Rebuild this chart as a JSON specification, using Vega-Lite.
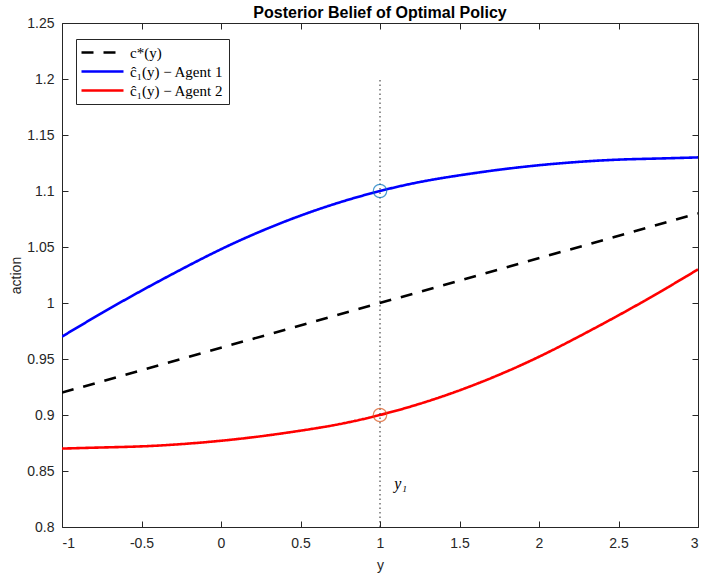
{
  "$schema": "https://vega.github.io/schema/vega-lite/v6.json",
  "autosize": "none",
  "width": 636,
  "height": 504,
  "padding": {"left": 62, "top": 23, "right": 5, "bottom": 47},
  "background": "white",
  "title": {"text": "Posterior Belief of Optimal Policy", "font": "Liberation Sans", "fontSize": 16, "fontWeight": "bold", "color": "#000000", "offset": -5},
  "config": {
    "view": {"stroke": null},
    "axis": {"domainColor": "#262626", "tickColor": "#262626", "labelColor": "#262626", "titleColor": "#262626", "labelFont": "Liberation Sans", "titleFont": "Liberation Sans", "labelFontSize": 14, "titleFontSize": 14, "titleFontWeight": "normal", "grid": false, "tickSize": -6, "domainWidth": 1}
  },
  "datasets": {
    "curves": [
      {"series": "c*(y)", "x": -1, "y": 0.92},
      {"series": "c*(y)", "x": 3, "y": 1.08},
      {"series": "ĉ₁(y) − Agent 1", "x": -1, "y": 0.970},
      {"series": "ĉ₁(y) − Agent 1", "x": -0.75, "y": 0.991},
      {"series": "ĉ₁(y) − Agent 1", "x": -0.5, "y": 1.011},
      {"series": "ĉ₁(y) − Agent 1", "x": -0.25, "y": 1.030},
      {"series": "ĉ₁(y) − Agent 1", "x": 0, "y": 1.048},
      {"series": "ĉ₁(y) − Agent 1", "x": 0.25, "y": 1.064},
      {"series": "ĉ₁(y) − Agent 1", "x": 0.5, "y": 1.078},
      {"series": "ĉ₁(y) − Agent 1", "x": 0.75, "y": 1.090},
      {"series": "ĉ₁(y) − Agent 1", "x": 1, "y": 1.100},
      {"series": "ĉ₁(y) − Agent 1", "x": 1.25, "y": 1.108},
      {"series": "ĉ₁(y) − Agent 1", "x": 1.5, "y": 1.114},
      {"series": "ĉ₁(y) − Agent 1", "x": 1.75, "y": 1.119},
      {"series": "ĉ₁(y) − Agent 1", "x": 2, "y": 1.123},
      {"series": "ĉ₁(y) − Agent 1", "x": 2.25, "y": 1.126},
      {"series": "ĉ₁(y) − Agent 1", "x": 2.5, "y": 1.128},
      {"series": "ĉ₁(y) − Agent 1", "x": 2.75, "y": 1.129},
      {"series": "ĉ₁(y) − Agent 1", "x": 3, "y": 1.130},
      {"series": "ĉ₁(y) − Agent 2", "x": -1, "y": 0.870},
      {"series": "ĉ₁(y) − Agent 2", "x": -0.75, "y": 0.871},
      {"series": "ĉ₁(y) − Agent 2", "x": -0.5, "y": 0.872},
      {"series": "ĉ₁(y) − Agent 2", "x": -0.25, "y": 0.874},
      {"series": "ĉ₁(y) − Agent 2", "x": 0, "y": 0.877},
      {"series": "ĉ₁(y) − Agent 2", "x": 0.25, "y": 0.881},
      {"series": "ĉ₁(y) − Agent 2", "x": 0.5, "y": 0.886},
      {"series": "ĉ₁(y) − Agent 2", "x": 0.75, "y": 0.892},
      {"series": "ĉ₁(y) − Agent 2", "x": 1, "y": 0.900},
      {"series": "ĉ₁(y) − Agent 2", "x": 1.25, "y": 0.910},
      {"series": "ĉ₁(y) − Agent 2", "x": 1.5, "y": 0.922},
      {"series": "ĉ₁(y) − Agent 2", "x": 1.75, "y": 0.936},
      {"series": "ĉ₁(y) − Agent 2", "x": 2, "y": 0.952},
      {"series": "ĉ₁(y) − Agent 2", "x": 2.25, "y": 0.970},
      {"series": "ĉ₁(y) − Agent 2", "x": 2.5, "y": 0.989},
      {"series": "ĉ₁(y) − Agent 2", "x": 2.75, "y": 1.009},
      {"series": "ĉ₁(y) − Agent 2", "x": 3, "y": 1.030}
    ],
    "markers": [
      {"x": 1, "y": 1.1, "who": "a1"},
      {"x": 1, "y": 0.9, "who": "a2"}
    ],
    "vline": [
      {"x": 1, "y": 0.8, "y2": 1.2}
    ],
    "label": [
      {"x": 1.09, "y": 0.838, "text": "y₁"}
    ]
  },
  "resolve": {"axis": {"x": "independent", "y": "independent"}},
  "layer": [
    {
      "data": {"name": "curves"},
      "mark": {"type": "line", "strokeWidth": 2.6, "interpolate": "natural", "clip": true},
      "encoding": {
        "x": {"field": "x", "type": "quantitative", "scale": {"domain": [-1, 3], "nice": false}, "axis": {"title": "y", "values": [-1, -0.5, 0, 0.5, 1, 1.5, 2, 2.5, 3], "format": "~g", "labelPadding": 15, "titlePadding": 8, "labelExpr": "replace(datum.label, '−', '-')"}},
        "y": {"field": "y", "type": "quantitative", "scale": {"domain": [0.8, 1.25], "nice": false, "zero": false}, "axis": {"title": "action", "values": [0.8, 0.85, 0.9, 0.95, 1, 1.05, 1.1, 1.15, 1.2, 1.25], "format": "~g", "labelPadding": 14, "titlePadding": 3}},
        "color": {"field": "series", "type": "nominal", "scale": {"domain": ["c*(y)", "ĉ₁(y) − Agent 1", "ĉ₁(y) − Agent 2"], "range": ["#000000", "#0000FF", "#FF0000"]}, "legend": {"title": null, "orient": "none", "legendX": 14, "legendY": 16, "symbolType": "M-3,0H3", "symbolSize": 196, "symbolStrokeWidth": 2.6, "labelFont": "Liberation Serif", "labelFontSize": 15, "labelColor": "#000000", "strokeColor": "#262626", "fillColor": "white", "padding": 5, "rowPadding": 2, "labelOffset": 19, "symbolOffset": 13}},
        "strokeDash": {"field": "series", "type": "nominal", "scale": {"domain": ["c*(y)", "ĉ₁(y) − Agent 1", "ĉ₁(y) − Agent 2"], "range": [[12, 10], [1, 0], [1, 0]]}, "legend": {"title": null, "orient": "none", "legendX": 14, "legendY": 16, "symbolType": "M-3,0H3", "symbolSize": 196, "symbolStrokeWidth": 2.6, "labelFont": "Liberation Serif", "labelFontSize": 15, "labelColor": "#000000", "strokeColor": "#262626", "fillColor": "white", "padding": 5, "rowPadding": 2, "labelOffset": 19, "symbolOffset": 13}}
      }
    },
    {
      "data": {"name": "vline"},
      "mark": {"type": "rule", "color": "#262626", "strokeWidth": 1, "strokeDash": [1.5, 3]},
      "encoding": {
        "x": {"field": "x", "type": "quantitative", "axis": {"orient": "top", "labels": false, "title": null, "values": [-1, -0.5, 0, 0.5, 1, 1.5, 2, 2.5, 3]}},
        "y": {"field": "y", "type": "quantitative", "axis": {"orient": "right", "labels": false, "title": null, "values": [0.8, 0.85, 0.9, 0.95, 1, 1.05, 1.1, 1.15, 1.2, 1.25]}},
        "y2": {"field": "y2"}
      }
    },
    {
      "data": {"name": "markers"},
      "mark": {"type": "point", "shape": "circle", "size": 180, "strokeWidth": 1.2, "filled": false},
      "encoding": {
        "x": {"field": "x", "type": "quantitative", "axis": null},
        "y": {"field": "y", "type": "quantitative", "axis": null},
        "stroke": {"field": "who", "type": "nominal", "scale": {"domain": ["a1", "a2"], "range": ["#0072BD", "#D95319"]}, "legend": null}
      }
    },
    {
      "data": {"name": "label"},
      "mark": {"type": "text", "font": "Liberation Serif", "fontSize": 16, "fontStyle": "italic", "align": "left", "baseline": "middle", "color": "#000000"},
      "encoding": {
        "x": {"field": "x", "type": "quantitative", "axis": null},
        "y": {"field": "y", "type": "quantitative", "axis": null},
        "text": {"field": "text"}
      }
    }
  ]
}
